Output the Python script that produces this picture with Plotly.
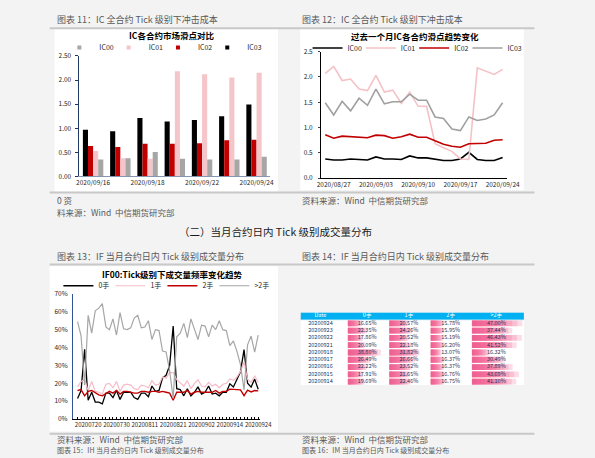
import plotly.graph_objects as go

W, H = 595, 458
FONT = "Noto Sans CJK SC, Noto Sans, sans-serif"


def px(x):
    return x / W


def py(y):
    return 1 - y / H


# ---------------- Chart 11 data (bar) ----------------
bar_dates = ['2020/09/16', '2020/09/17', '2020/09/18', '2020/09/21', '2020/09/22', '2020/09/23', '2020/09/24']
bar_ticks = ['2020/09/16', '2020/09/18', '2020/09/22', '2020/09/24']
bar_ic03 = [0.97, 0.94, 1.21, 1.14, 1.17, 1.25, 1.49]
bar_ic02 = [0.63, 0.61, 0.68, 0.68, 0.69, 0.75, 0.76]
bar_ic01 = [0.53, 0.38, 0.37, 2.18, 2.12, 2.05, 2.15]
bar_ic00 = [0.35, 0.38, 0.51, 0.37, 0.35, 0.35, 0.41]

# ---------------- Chart 12 data (lines) ----------------
line_dates = ['2020/08/26', '2020/08/27', '2020/08/28', '2020/08/31', '2020/09/01', '2020/09/02',
              '2020/09/03', '2020/09/04', '2020/09/07', '2020/09/08', '2020/09/09', '2020/09/10',
              '2020/09/11', '2020/09/14', '2020/09/15', '2020/09/16', '2020/09/17', '2020/09/18',
              '2020/09/21', '2020/09/22', '2020/09/23', '2020/09/24']
line_ticks = ['2020/08/27', '2020/09/03', '2020/09/10', '2020/09/17', '2020/09/24']
ic00 = [0.38, 0.36, 0.36, 0.38, 0.37, 0.36, 0.42, 0.38, 0.38, 0.37, 0.44, 0.40, 0.40, 0.37, 0.35,
        0.35, 0.38, 0.51, 0.37, 0.35, 0.35, 0.41]
ic01 = [2.07, 2.21, 1.93, 1.96, 1.76, 1.73, 2.03, 1.70, 1.74, 1.48, 1.70, 1.42, 1.42, 0.68, 0.60,
        0.53, 0.38, 0.37, 2.18, 2.12, 2.05, 2.15]
ic02 = [0.86, 0.79, 0.83, 0.82, 0.81, 0.80, 0.85, 0.84, 0.79, 0.82, 0.87, 0.81, 0.81, 0.74, 0.67,
        0.63, 0.61, 0.68, 0.68, 0.69, 0.75, 0.76]
ic03 = [1.49, 1.25, 1.52, 1.33, 1.58, 1.44, 1.76, 1.47, 1.51, 1.51, 1.66, 1.54, 1.54, 1.21, 1.18,
        0.97, 0.94, 1.21, 1.14, 1.17, 1.25, 1.49]

# ---------------- Chart 13 data (volume share, %) ----------------
vol_dates = ['20200715', '20200716', '20200717', '20200720', '20200721', '20200722', '20200723',
             '20200724', '20200727', '20200728', '20200729', '20200730', '20200731', '20200803',
             '20200804', '20200805', '20200806', '20200807', '20200810', '20200811', '20200812',
             '20200813', '20200814', '20200817', '20200818', '20200819', '20200820', '20200821',
             '20200824', '20200825', '20200826', '20200827', '20200828', '20200831', '20200901',
             '20200902', '20200903', '20200904', '20200907', '20200908', '20200909', '20200910',
             '20200911', '20200914', '20200915', '20200916', '20200917', '20200918', '20200921',
             '20200922', '20200923', '20200924']
vol_ticks = ['20200720', '20200730', '20200811', '20200821', '20200902', '20200914', '20200924']
vol_0 = [11.5, 16, 39, 10.5, 15, 9.5, 9.5, 8.5, 14.5, 14.5, 12, 16, 11, 15, 15, 15, 12, 11, 14.5,
         14.5, 12.5, 18.5, 15.5, 16, 23, 24.5, 30, 52, 17, 16.5, 13, 17, 13, 15, 18, 14, 15, 18.5,
         14, 14.5, 13, 15, 15, 19.69, 17.91, 22.22, 26.49, 38.80, 20.09, 17.86, 22.35, 16.65]
vol_1 = [18, 21, 22, 16, 21, 15.5, 15, 14, 19.5, 20, 17.5, 21, 15.5, 19, 19.5, 19, 17, 16.5, 19,
         18.5, 17.5, 21.5, 19, 19.5, 23.5, 23, 26, 26, 22, 20.5, 18.5, 21.5, 17, 20, 22, 18.5, 18,
         20.5, 18.5, 19.5, 17.5, 19.5, 20, 22.46, 21.65, 23.52, 26.66, 31.82, 22.18, 20.52, 24.26,
         20.57]
vol_2 = [16, 16.5, 13, 15.5, 16, 14.5, 13.5, 13, 14.5, 15.5, 14.5, 16, 14, 15.5, 15.5, 15, 14.5,
         14.5, 15.5, 15.5, 15, 15.5, 15.5, 15, 15.5, 15, 14.5, 10.5, 15, 15, 15, 16, 14, 15, 15.5,
         15, 15, 15, 15, 16, 14.5, 15.5, 15.5, 16.75, 16.76, 16.37, 16.37, 13.07, 16.20, 15.19,
         15.95, 15.78]
vol_3 = [54.5, 46.5, 19, 58, 48, 60.5, 62, 64.5, 51.5, 50, 56, 47, 59.5, 50.5, 50, 51, 56.5, 58,
         51, 51.5, 55, 44.5, 50, 49.5, 38, 37.5, 27, 11.5, 46, 48, 53.5, 45.5, 56, 50, 44.5, 52.5,
         52, 46, 52.5, 50, 55, 50, 49.5, 41.10, 43.69, 37.89, 30.49, 16.32, 41.52, 46.43, 37.44,
         47.00]

# ---------------- Chart 14 table data ----------------
tbl_header = ['Date', '0手', '1手', '2手', '>2手']
tbl_dates = ['20200924', '20200923', '20200922', '20200921', '20200918', '20200917', '20200916',
             '20200915', '20200914']
tbl_0 = [16.65, 22.35, 17.86, 20.09, 38.80, 26.49, 22.22, 17.91, 19.69]
tbl_1 = [20.57, 24.26, 20.52, 22.18, 31.82, 26.66, 23.52, 21.65, 22.46]
tbl_2 = [15.78, 15.95, 15.19, 16.20, 13.07, 16.37, 16.37, 16.76, 16.75]
tbl_3 = [47.00, 37.44, 46.43, 41.52, 16.32, 30.49, 37.89, 43.69, 41.10]

fig = go.Figure()

# ---- chart 11 bars ----
BLACK, RED, PINK, GREY = '#000000', '#c00000', '#f5c6c9', '#a6a6a6'
for name, vals, col in [('IC03', bar_ic03, BLACK), ('IC02', bar_ic02, RED),
                        ('IC01', bar_ic01, PINK), ('IC00', bar_ic00, GREY)]:
    fig.add_trace(go.Bar(x=bar_dates, y=vals, name=name, marker=dict(color=col, line_width=0),
                         showlegend=False, xaxis='x', yaxis='y'))
for name, col in [('IC00', GREY), ('IC01', PINK), ('IC02', RED), ('IC03', BLACK)]:
    fig.add_trace(go.Scatter(x=[None], y=[None], mode='markers', name=name,
                             marker=dict(symbol='square', size=4, color=col),
                             xaxis='x', yaxis='y', legend='legend',
                             legendwidth=22 if name == 'IC03' else None))

# ---- chart 12 lines ----
for name, vals, col in [('IC00', ic00, BLACK), ('IC01', ic01, '#f4c2c6'),
                        ('IC02', ic02, RED), ('IC03', ic03, '#a0a0a0')]:
    fig.add_trace(go.Scatter(x=line_dates, y=vals, name=name, mode='lines',
                             line=dict(color=col, width=1.6), xaxis='x2', yaxis='y2',
                             legend='legend2', legendwidth=22 if name == 'IC03' else None))

# ---- chart 13 lines ----
for name, vals, col, wdt in [('0手', vol_0, BLACK, 1.3), ('1手', vol_1, '#f6bcc6', 1.2),
                             ('2手', vol_2, RED, 1.4), ('>2手', vol_3, '#a6a6a6', 1.2)]:
    fig.add_trace(go.Scatter(x=vol_dates, y=vals, name=name, mode='lines',
                             line=dict(color=col, width=wdt), xaxis='x3', yaxis='y3',
                             legend='legend3', legendwidth=22 if name == '>2手' else None))

# ---- chart 14 table ----
rows = list(range(len(tbl_dates)))
col_start = [48.7, 91.4, 134.0, 176.4]      # left edge of each value column (table units)
col_text = [68.5, 111.5, 154.5, 201.5]      # text centre of each value column
col_maxlen = [34.0, 31.0, 14.0, 52.0]       # bar length of the column maximum
cols = [tbl_0, tbl_1, tbl_2, tbl_3]
NL = 10
for j in range(NL):
    frac = 1 - j / NL
    xs, bs, ys = [], [], []
    for c, vals in enumerate(cols):
        m = max(vals)
        for r, v in zip(rows, vals):
            xs.append(v / m * col_maxlen[c] * frac)
            bs.append(col_start[c])
            ys.append(r)
    fig.add_trace(go.Bar(x=xs, y=ys, base=bs, orientation='h', width=0.8, offset=-0.4,
                         marker=dict(color='rgba(238,78,135,0.2)', line_width=0),
                         showlegend=False, xaxis='x4', yaxis='y4', hoverinfo='skip'))

TBL_FS = 5.5
fig.add_trace(go.Scatter(x=[20.5] + col_text, y=[-1] * 5, text=tbl_header, mode='text',
                         textfont=dict(size=TBL_FS, color='white', family=FONT),
                         showlegend=False, xaxis='x4', yaxis='y4'))
fig.add_trace(go.Scatter(x=[20.5] * len(rows), y=rows, text=tbl_dates, mode='text',
                         textfont=dict(size=TBL_FS, color='#1f3458', family=FONT),
                         showlegend=False, xaxis='x4', yaxis='y4'))
for c, vals in enumerate(cols):
    fig.add_trace(go.Scatter(x=[col_text[c]] * len(rows), y=rows,
                             text=[f'{v:.2f}%' for v in vals], mode='text',
                             textfont=dict(size=TBL_FS, color='#1f3458', family=FONT),
                             showlegend=False, xaxis='x4', yaxis='y4'))

# ---------------- layout ----------------
tick_font = dict(size=6.5, color='#262626', family=FONT)
shapes = []
# white chart boxes
for (x0, y0, x1, y1) in [(52, 23.5, 282, 190), (305, 23.5, 535, 188), (47, 266, 282, 435)]:
    shapes.append(dict(type='rect', xref='paper', yref='paper', x0=px(x0), x1=px(x1),
                       y0=py(y1), y1=py(y0), fillcolor='white', line_width=0, layer='below'))
# separator lines
for yy in [22.7, 190.7, 264.3, 437.3]:
    shapes.append(dict(type='line', xref='paper', yref='paper', x0=px(47), x1=px(546),
                       y0=py(yy), y1=py(yy), line=dict(color='#c8c8c8', width=2)))
# table background and header band
shapes.append(dict(type='rect', xref='x4', yref='y4', x0=0, x1=230, y0=-1.5, y1=8.5,
                   fillcolor='white', line_width=0, layer='below'))
shapes.append(dict(type='rect', xref='x4', yref='y4', x0=0, x1=230, y0=-1.5, y1=-0.5,
                   fillcolor='#00b0f0', line=dict(color='#7fd3f5', width=0.6), layer='below'))


def ann(text, x, y, size=9, color='#595959', xanchor='left', bold=False):
    return dict(text=f'<b>{text}</b>' if bold else text, x=px(x), y=py(y), xref='paper',
                yref='paper', xanchor=xanchor, yanchor='middle', showarrow=False,
                font=dict(size=size, color=color, family=FONT))


annotations = [
    ann('图表 11：IC 全合约 Tick 级别下冲击成本', 53, 13.5),
    ann('图表 12：IC 全合约 Tick 级别下冲击成本', 305, 13.5),
    ann('IC各合约市场滑点对比', 172, 30, size=8.5, color='#000', xanchor='center', bold=True),
    ann('过去一个月IC各合约滑点趋势变化', 423, 31, size=8.5, color='#000', xanchor='center', bold=True),
    ann('0 资', 53, 198, size=8.5),
    ann('料来源：Wind  中信期货研究部', 53, 210.5, size=8.5),
    ann('资料来源：Wind  中信期货研究部', 305, 198, size=8.5),
    ann('（二）当月合约日内 Tick 级别成交量分布', 279, 231, size=10.5, color='#1a1a1a',
        xanchor='center'),
    ann('图表 13：IF 当月合约日内 Tick 级别成交量分布', 53, 256.5),
    ann('图表 14：IF 当月合约日内 Tick 级别成交量分布', 305, 256.5),
    ann('IF00:Tick级别下成交量频率变化趋势', 173, 274, size=8.5, color='#000', xanchor='center',
        bold=True),
    ann('资料来源：Wind  中信期货研究部', 53, 442.5, size=8.5),
    ann('资料来源：Wind  中信期货研究部', 305, 442.5, size=8.5),
    ann('图表 15：IH 当月合约日内 Tick 级别成交量分布', 53, 454, size=7),
    ann('图表 16：IM 当月合约日内 Tick 级别成交量分布', 305, 454, size=7),
]

legend_common = dict(orientation='h', xanchor='left', yanchor='middle', bgcolor='rgba(0,0,0,0)',
                     font=dict(size=7, color='#262626', family=FONT), itemwidth=30,
                     entrywidthmode='pixels', tracegroupgap=0, borderwidth=0)

fig.update_layout(
    width=W, height=H, margin=dict(l=0, r=0, t=0, b=0),
    paper_bgcolor='#f3f3f3', plot_bgcolor='rgba(0,0,0,0)',
    font=dict(family=FONT, size=7, color='#262626'),
    barmode='group', bargap=0.25, bargroupgap=0,
    showlegend=True,
    legend=dict(**legend_common, x=px(57), y=py(42.5), entrywidth=4.3),
    legend2=dict(**legend_common, x=px(312.5), y=py(43), entrywidth=8.3),
    legend3=dict(**legend_common, x=px(56), y=py(286), entrywidth=7),
    xaxis=dict(domain=[px(77.7), px(274)], type='category', categoryorder='array',
               categoryarray=bar_dates, tickvals=bar_ticks, ticks='', showline=True,
               linecolor='#8496b0', linewidth=1, showgrid=False, tickfont=tick_font,
               anchor='y', fixedrange=True),
    yaxis=dict(domain=[py(174.3), py(51)], range=[0, 2.5], dtick=0.5, tickformat='.2f',
               showline=True, linecolor='#1f3864', linewidth=1, ticks='outside', ticklen=3,
               tickcolor='#1f3864', showgrid=False, zeroline=False, tickfont=tick_font,
               ticklabelstandoff=3, anchor='x', fixedrange=True),
    xaxis2=dict(domain=[px(326.35), px(517.65)], type='category', categoryorder='array',
                categoryarray=line_dates, range=[-0.5, 21.5], tickvals=line_ticks, ticks='',
                showline=True, linecolor='#000', linewidth=1, showgrid=False,
                tickfont=tick_font, anchor='y2', fixedrange=True),
    yaxis2=dict(domain=[py(176), py(46.7)], range=[0, 2.5], dtick=0.5, tickformat='.1f',
                showline=True, linecolor='#000', linewidth=1, ticks='outside', ticklen=2,
                showgrid=False, zeroline=False, tickfont=tick_font, ticklabelstandoff=4,
                anchor='x2', fixedrange=True),
    xaxis3=dict(domain=[px(70.96), px(263.5)], type='category', categoryorder='array',
                categoryarray=vol_dates, range=[-1.3, 51.5], tickvals=vol_dates,
                ticktext=[d if d in vol_ticks else '' for d in vol_dates], ticks='inside',
                ticklen=2, tickwidth=1, tickcolor='#000', showline=True, linecolor='#000',
                linewidth=1, showgrid=False, tickfont=dict(size=6, color='#262626', family=FONT),
                tickangle=0, anchor='y3', fixedrange=True),
    yaxis3=dict(domain=[py(422.3), py(294.3)], range=[0, 70], dtick=10, ticksuffix='%',
                showline=True, linecolor='#2f5597', linewidth=1, ticks='', showgrid=False,
                zeroline=False, tickfont=tick_font, ticklabelstandoff=3, anchor='x3',
                fixedrange=True),
    xaxis4=dict(domain=[px(305.3), px(535.3)], range=[0, 230], visible=False, anchor='y4',
                fixedrange=True),
    yaxis4=dict(domain=[py(387.7), py(313.3)], range=[8.5, -1.5], visible=False, anchor='x4',
                fixedrange=True),
    shapes=shapes,
    annotations=annotations,
)

fig.write_html('out.html',
               config={'displayModeBar': False},
               post_script="document.body.style.margin='0px';"
                           "document.body.style.background='#f3f3f3';")
